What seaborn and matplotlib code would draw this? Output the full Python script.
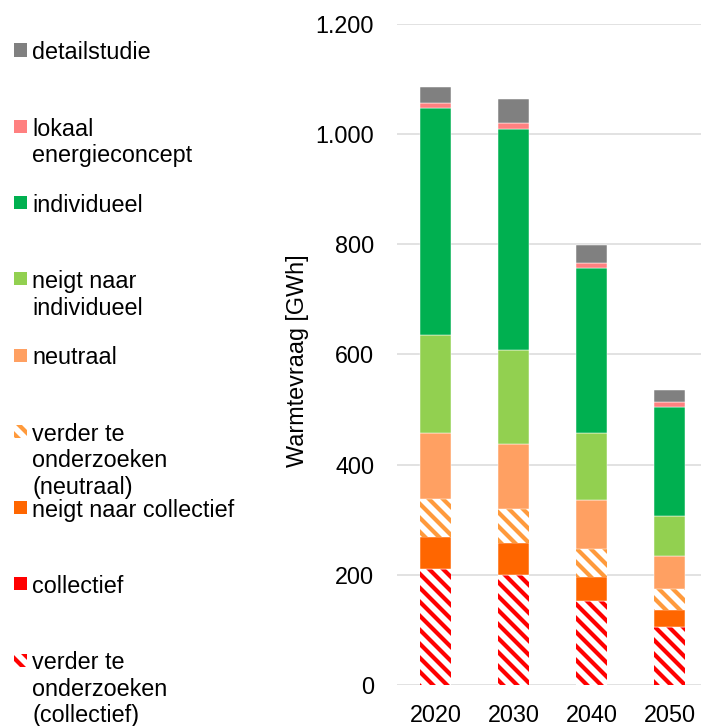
import matplotlib.pyplot as plt
import numpy as np
import seaborn as sns
from matplotlib.patches import Rectangle
from matplotlib.ticker import FuncFormatter

# warmtevraag per jaar [GWh], segmenten van onder naar boven
years = ['2020', '2030', '2040', '2050']
verder_collectief = [210, 200, 152, 105]
collectief = [0, 0, 0, 0]
neigt_collectief = [59, 58, 44, 31]
verder_neutraal = [69, 61, 51, 38]
neutraal = [120, 119, 89, 60]
neigt_individueel = [178, 171, 122, 73]
individueel = [411, 400, 299, 198]
lokaal = [9, 11, 9, 8]
detailstudie = [29, 43, 33, 23]

layers = [
    ('verder te\nonderzoeken\n(collectief)', verder_collectief, '#ff0000', True),
    ('collectief', collectief, '#ff0000', False),
    ('neigt naar collectief', neigt_collectief, '#ff6600', False),
    ('verder te\nonderzoeken\n(neutraal)', verder_neutraal, '#ff9a3c', True),
    ('neutraal', neutraal, '#ffa062', False),
    ('neigt naar\nindividueel', neigt_individueel, '#92d050', False),
    ('individueel', individueel, '#00b050', False),
    ('lokaal\nenergieconcept', lokaal, '#ff8080', False),
    ('detailstudie', detailstudie, '#808080', False),
]

W, H, DPI = 701, 726, 84
sns.set_style('white')
plt.rcParams['font.family'] = ['Liberation Sans', 'DejaVu Sans']
plt.rcParams.update({'hatch.linewidth': 3.6,
                     'text.color': 'black',
                     'axes.labelcolor': 'black',
                     'xtick.color': 'black',
                     'ytick.color': 'black'})

fig = plt.figure(figsize=(W / DPI, H / DPI), dpi=DPI)
ax = fig.add_axes([397 / W, 41 / H, 1 - 397 / W, 661 / H])

bottom = np.zeros(len(years))
for label, vals, color, hatched in layers:
    if hatched:
        sns.barplot(x=years, y=vals, bottom=bottom, width=0.4, saturation=1,
                    errorbar=None, color='white', edgecolor=color,
                    hatch='\\\\', linewidth=0, ax=ax)
    else:
        sns.barplot(x=years, y=vals, bottom=bottom, width=0.4, saturation=1,
                    errorbar=None, color=color, edgecolor='white',
                    linewidth=0.4, ax=ax)
    bottom += np.array(vals)

ax.set_ylim(0, 1200)
ax.set_xlim(-0.5, 3.405)
ax.set_yticks(range(0, 1201, 200))
ax.yaxis.set_major_formatter(FuncFormatter(lambda v, p: f'{int(v):,}'.replace(',', '.')))
ax.yaxis.grid(True, color='#d9d9d9', linewidth=1.3)
ax.xaxis.grid(False)
ax.set_axisbelow(True)
sns.despine(ax=ax, left=True, bottom=True)
ax.tick_params(axis='both', length=0, labelsize=20)
ax.tick_params(axis='x', pad=16)
ax.tick_params(axis='y', pad=19.5)
ax.set_xlabel('')
ax.set_ylabel('Warmtevraag [GWh]', fontsize=20)
ax.yaxis.set_label_coords(-0.29, 0.49)

# legenda links, bovenste item eerst
for i, (label, vals, color, hatched) in enumerate(layers[::-1]):
    yc = 50 + i * 76.25
    if hatched:
        patch = Rectangle((14 / W, 1 - (yc + 6.5) / H), 13 / W, 13 / H,
                          transform=fig.transFigure, facecolor='white',
                          edgecolor=color, hatch='\\\\', linewidth=0)
    else:
        patch = Rectangle((14 / W, 1 - (yc + 6.5) / H), 13 / W, 13 / H,
                          transform=fig.transFigure, facecolor=color,
                          linewidth=0)
    fig.add_artist(patch)
    fig.text(32 / W, 1 - (yc - 8.7) / H, label, fontsize=20, va='top',
             ha='left', linespacing=1.2)

fig.savefig('out.png', dpi=DPI)
